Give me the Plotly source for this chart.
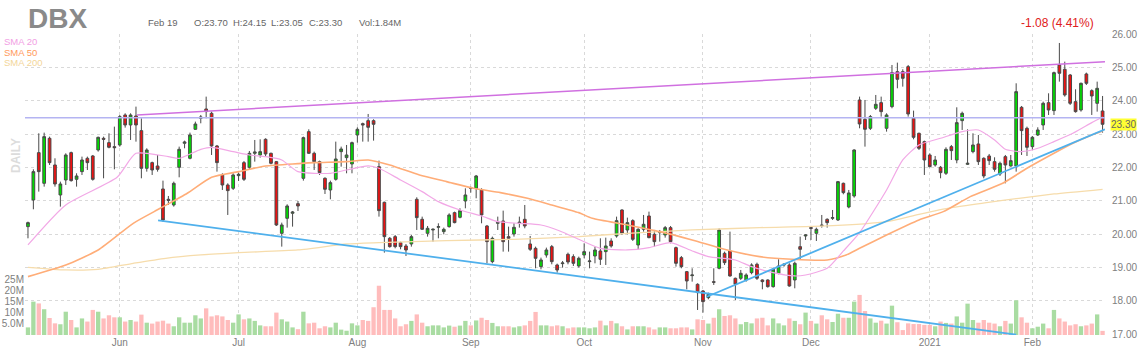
import plotly.graph_objects as go
import pandas as pd

# ---------------- data ----------------
holidays = ["2020-05-25", "2020-07-03", "2020-09-07", "2020-11-26",
            "2020-12-25", "2021-01-01", "2021-01-18", "2021-02-15"]
dates = [d for d in pd.bdate_range("2020-05-06", "2021-02-19")
         if d.strftime("%Y-%m-%d") not in holidays]

opens = [20.23, 21.03, 22.45, 21.53, 22.88, 22.08, 21.18, 21.63, 22.45, 21.65,
         21.88, 22.28, 22.35, 22.53, 22.88, 22.75, 22.63, 22.68, 23.58, 23.28,
         23.55, 23.11, 21.98, 22.15, 22.05, 21.36, 21.05, 20.88, 22.01, 22.73,
         22.28, 23.15, 23.48, 23.76, 23.63, 22.65, 21.78, 21.48, 21.38, 21.76,
         22.15, 22.01, 22.43, 22.38, 22.85, 22.43, 22.18, 20.03, 20.48, 20.63,
         20.92, 21.68, 23.08, 22.43, 22.18, 21.68, 21.33, 21.65, 22.48, 22.30,
         22.11, 22.98, 23.32, 23.41, 23.41, 22.03, 20.96, 19.88, 19.93, 19.75,
         19.65, 19.71, 21.05, 20.45, 20.03, 20.13, 20.21, 20.08, 20.23, 20.65,
         20.51, 21.00, 21.40, 21.38, 21.33, 20.25, 19.18, 20.33, 20.40, 19.93,
         20.01, 20.33, 20.45, 19.71, 19.58, 19.03, 19.38, 19.63, 19.08, 19.12,
         19.40, 19.33, 19.05, 19.38, 19.18, 19.35, 19.50, 19.48, 19.80, 19.95,
         20.73, 20.13, 20.41, 19.68, 20.15, 20.55, 20.00, 20.05, 19.98, 20.20,
         19.60, 19.30, 18.88, 18.76, 18.50, 18.30, 18.10, 18.58, 18.98, 19.43,
         19.50, 18.68, 18.68, 18.63, 18.85, 19.10, 18.63, 18.63, 18.43, 18.83,
         19.08, 19.08, 18.63, 19.63, 19.95, 20.20, 20.03, 20.28, 20.45, 20.48,
         20.43, 21.53, 20.82, 21.15, 24.03, 23.45, 23.18, 23.78, 23.95, 23.18,
         23.83, 24.88, 24.88, 25.03, 23.48, 23.03, 22.78, 22.38, 22.08, 22.01,
         21.83, 22.63, 22.23, 23.41, 22.10, 22.48, 22.71, 22.28, 22.35, 22.18,
         21.81, 22.33, 22.05, 22.05, 23.81, 23.18, 22.63, 22.98, 23.28, 23.95,
         23.71, 25.08, 24.95, 24.78, 23.98, 23.73, 24.81, 24.31, 23.93, 23.70]
highs = [20.38, 21.95, 23.03, 23.05, 22.93, 22.28, 21.58, 22.43, 22.48, 21.83,
         22.33, 22.33, 22.38, 22.93, 22.93, 23.03, 23.23, 23.58, 23.63, 23.63,
         23.83, 23.48, 22.58, 22.18, 22.38, 21.61, 21.15, 21.58, 22.63, 22.81,
         23.05, 23.38, 23.58, 24.13, 23.68, 22.68, 21.83, 21.53, 21.83, 21.85,
         22.20, 22.50, 22.83, 22.85, 22.88, 22.45, 22.20, 20.35, 20.90, 20.70,
         21.00, 22.93, 23.15, 22.48, 22.21, 21.71, 21.61, 22.78, 22.63, 22.68,
         22.78, 23.21, 23.35, 23.61, 23.45, 22.21, 20.98, 19.92, 19.98, 19.78,
         19.71, 19.98, 21.11, 20.53, 20.25, 20.18, 20.33, 20.20, 20.63, 20.68,
         20.78, 21.38, 21.43, 21.78, 21.38, 20.28, 19.93, 20.53, 20.71, 20.23,
         20.33, 20.53, 20.88, 19.95, 19.63, 19.30, 19.60, 19.68, 19.12, 19.20,
         19.45, 19.40, 19.33, 19.73, 19.48, 19.63, 19.88, 19.90, 19.88, 20.53,
         20.75, 20.50, 20.45, 20.18, 20.58, 20.68, 20.13, 20.13, 20.25, 20.25,
         19.63, 19.35, 18.90, 18.98, 18.53, 18.33, 18.25, 18.98, 20.18, 19.48,
         20.08, 18.70, 18.93, 18.83, 19.13, 19.15, 18.65, 18.65, 19.00, 19.25,
         19.13, 19.13, 19.18, 19.93, 20.00, 20.25, 20.20, 20.58, 20.48, 20.73,
         21.60, 21.55, 21.33, 22.55, 24.13, 24.03, 23.58, 24.18, 24.13, 23.63,
         25.08, 25.15, 24.95, 25.08, 23.71, 23.05, 22.81, 22.43, 22.35, 22.05,
         22.61, 22.68, 23.81, 23.68, 23.15, 23.03, 22.98, 22.31, 22.41, 22.31,
         22.18, 22.38, 22.38, 24.53, 23.85, 23.23, 22.95, 23.21, 23.98, 24.23,
         24.88, 25.74, 25.18, 24.81, 24.35, 24.55, 24.85, 24.35, 24.58, 24.15]
lows = [19.88, 20.75, 21.28, 21.43, 22.08, 21.43, 20.83, 21.48, 21.58, 21.43,
        21.78, 21.93, 21.61, 22.48, 21.68, 22.58, 21.95, 22.63, 23.20, 22.83,
        22.78, 21.68, 21.88, 21.78, 21.88, 20.38, 20.88, 20.83, 21.71, 22.58,
        22.25, 23.13, 23.33, 23.48, 22.38, 21.88, 21.33, 20.58, 21.33, 21.60,
        21.60, 21.95, 22.18, 22.30, 22.33, 22.10, 20.25, 19.63, 20.20, 20.23,
        20.70, 21.61, 22.41, 21.93, 21.78, 21.21, 21.05, 21.61, 22.03, 21.83,
        21.83, 22.75, 22.78, 22.78, 22.81, 20.53, 19.45, 19.60, 19.58, 19.55,
        19.35, 19.63, 20.13, 20.13, 19.93, 19.78, 19.88, 20.00, 20.20, 20.33,
        20.48, 20.78, 21.25, 21.08, 20.33, 19.13, 19.13, 20.13, 19.48, 19.48,
        19.93, 20.20, 20.18, 19.50, 18.98, 18.95, 19.30, 19.10, 18.85, 19.00,
        19.10, 19.05, 19.00, 19.28, 18.98, 19.13, 19.08, 19.08, 19.60, 19.90,
        19.98, 20.00, 19.80, 19.55, 20.08, 19.88, 19.63, 19.78, 19.90, 19.73,
        19.03, 18.98, 18.35, 18.58, 17.73, 17.65, 18.05, 18.48, 18.95, 19.08,
        18.73, 18.03, 18.63, 18.58, 18.80, 18.63, 18.35, 18.40, 18.40, 18.80,
        19.03, 18.43, 18.38, 19.23, 19.83, 19.83, 19.80, 20.20, 20.20, 20.43,
        20.40, 21.20, 20.78, 21.10, 23.18, 22.63, 23.13, 23.73, 23.53, 23.08,
        23.78, 24.38, 24.43, 23.53, 22.85, 22.53, 21.78, 22.01, 22.03, 21.68,
        21.78, 22.23, 22.13, 23.13, 22.08, 22.43, 22.08, 21.68, 22.08, 21.88,
        21.75, 21.53, 22.03, 21.88, 22.38, 22.35, 22.53, 22.95, 23.13, 23.58,
        23.58, 24.58, 24.13, 23.88, 23.65, 23.68, 24.48, 23.58, 23.68, 23.05]
closes = [20.35, 21.88, 21.88, 22.93, 22.15, 21.51, 21.51, 22.38, 21.61, 21.75,
          22.23, 22.15, 21.65, 22.91, 22.85, 22.61, 22.60, 23.53, 23.28, 23.58,
          23.28, 21.98, 22.53, 21.93, 21.95, 20.43, 21.02, 21.53, 22.55, 22.77,
          22.98, 23.31, 23.52, 23.68, 22.65, 22.15, 21.48, 21.31, 21.78, 21.80,
          21.65, 22.43, 22.47, 22.48, 22.41, 22.13, 20.28, 20.28, 20.85, 20.67,
          20.85, 22.90, 22.43, 22.18, 21.85, 21.35, 21.55, 22.26, 22.56, 22.38,
          22.75, 23.15, 23.28, 23.21, 23.30, 20.71, 19.93, 19.63, 19.63, 19.63,
          19.53, 19.93, 20.50, 20.15, 20.18, 20.15, 20.23, 20.15, 20.58, 20.35,
          20.71, 21.18, 21.38, 21.75, 20.58, 19.78, 19.88, 20.36, 19.78, 19.88,
          20.21, 20.36, 20.25, 19.55, 19.28, 19.23, 19.53, 19.18, 18.93, 19.14,
          19.17, 19.13, 19.28, 19.48, 19.20, 19.53, 19.25, 19.65, 19.65, 20.41,
          20.03, 20.35, 19.85, 20.15, 20.30, 19.90, 19.78, 20.08, 20.20, 19.78,
          19.13, 19.03, 18.60, 18.78, 18.25, 17.98, 18.20, 18.56, 20.13, 19.15,
          18.75, 18.50, 18.83, 18.78, 19.08, 18.68, 18.58, 18.43, 18.95, 19.05,
          19.10, 18.45, 19.13, 19.55, 19.98, 20.18, 20.15, 20.26, 20.35, 20.50,
          21.58, 21.25, 21.24, 22.53, 23.31, 23.15, 23.53, 23.90, 23.68, 23.58,
          24.85, 24.65, 24.68, 23.61, 22.91, 22.58, 22.23, 22.03, 22.23, 21.85,
          22.55, 22.51, 23.35, 23.63, 22.13, 22.68, 22.18, 21.75, 22.21, 21.95,
          22.13, 22.08, 22.21, 24.28, 23.11, 22.61, 22.91, 23.13, 23.93, 23.73,
          24.85, 24.83, 24.18, 23.93, 23.68, 24.53, 24.53, 24.15, 24.38, 23.30]
# volume in millions of shares
vol_m = [3.4, 14.9, 14.1, 11.5, 7.6, 5.2, 4.8, 10.4, 6.7, 3.4,
         7.4, 6.0, 11.2, 10.4, 7.4, 8.8, 7.9, 7.9, 6.0, 6.7,
         6.0, 9.1, 5.5, 5.1, 6.0, 6.4, 5.1, 3.9, 7.9, 5.5,
         5.5, 8.8, 7.4, 11.9, 8.3, 8.8, 8.3, 6.7, 5.5, 9.2,
         7.0, 7.4, 6.3, 4.3, 3.9, 3.9, 10.0, 7.0, 6.0, 3.4,
         2.6, 10.4, 5.2, 5.5, 3.0, 3.9, 3.4, 5.5, 2.4, 1.9,
         5.2, 4.3, 6.7, 6.3, 12.4, 22.0, 11.2, 11.2, 7.4, 3.9,
         4.8, 6.3, 9.2, 5.5, 3.9, 4.3, 4.3, 3.4, 4.2, 3.7,
         4.2, 6.3, 4.3, 6.5, 7.7, 6.7, 5.4, 3.9, 3.9, 3.9,
         3.4, 3.9, 4.3, 6.3, 10.3, 4.3, 4.3, 3.9, 4.3, 3.9,
         3.0, 3.4, 3.4, 3.4, 3.0, 3.4, 6.4, 4.3, 6.3, 5.2,
         3.9, 2.5, 3.9, 3.9, 3.9, 3.4, 2.5, 3.4, 3.4, 3.0,
         3.0, 3.4, 3.4, 2.5, 7.0, 6.7, 5.1, 7.7, 11.5, 8.5,
         8.8, 7.4, 4.8, 5.8, 5.2, 7.4, 7.7, 4.3, 7.4, 5.2,
         4.3, 7.4, 6.3, 4.8, 10.0, 6.3, 5.1, 8.8, 7.0, 5.8,
         9.5, 7.7, 7.7, 14.9, 17.9, 10.7, 7.4, 5.5, 6.4, 5.1,
         13.1, 5.7, 2.2, 5.2, 4.9, 4.9, 4.5, 4.5, 3.9, 6.0,
         5.4, 5.1, 8.3, 5.5, 14.0, 6.7, 5.5, 6.7, 5.5, 5.1,
         3.9, 6.3, 5.1, 15.5, 7.9, 5.5, 3.0, 3.7, 5.1, 3.0,
         11.2, 7.4, 6.0, 4.3, 4.8, 3.9, 4.3, 5.1, 9.2, 1.84]

sma20_idx = [0, 7, 16.5, 20, 26, 28, 32, 34, 38, 41, 44, 47, 50, 56, 59, 63, 65, 69,
             73, 76, 80, 84, 87, 91, 95, 98.5, 102, 106, 111, 115, 119, 123, 126,
             131, 134, 138, 142, 144, 148, 151, 154, 159, 162, 165, 169, 173, 176,
             179, 181, 184, 187, 190, 193.5, 197, 199]
sma20_val = [19.68, 20.88, 21.71, 22.43, 22.33, 22.28, 22.55, 22.61, 22.48, 22.38,
             22.33, 22.23, 21.88, 21.83, 21.93, 22.05, 21.98, 21.63, 21.28, 20.98,
             20.73, 20.55, 20.38, 20.33, 20.28, 20.10, 19.85, 19.58, 19.53, 19.60,
             19.75, 19.50, 19.33, 19.23, 19.03, 18.85, 18.75, 18.78, 18.98, 19.50,
             20.05, 21.33, 22.23, 22.68, 22.88, 23.08, 23.13, 22.83, 22.55, 22.48,
             22.58, 22.78, 23.03, 23.35, 23.52]
sma50_idx = [0, 7, 13, 19.5, 24.5, 29.5, 34, 39, 44, 50, 53, 59, 63, 67, 72.5, 77.5,
             82.5, 87.5, 92.5, 97, 102, 104.5, 111, 117, 123, 129.5, 135.5, 141.5,
             148, 151.5, 154, 159, 165, 169.5, 174.5, 180.5, 185, 190, 193.5, 197, 199]
sma50_val = [18.73, 19.08, 19.53, 20.33, 20.78, 21.23, 21.71, 21.88, 22.05, 22.12,
             22.15, 22.18, 22.23, 22.08, 21.78, 21.58, 21.38, 21.25, 21.08, 20.88,
             20.65, 20.48, 20.28, 20.08, 19.83, 19.53, 19.33, 19.25, 19.23, 19.38,
             19.58, 19.98, 20.43, 20.68, 21.13, 21.53, 21.98, 22.43, 22.73, 22.98, 23.10]
sma200_idx = [0, 7, 13, 19.5, 25.5, 32, 39, 50, 59, 65, 77.5, 90, 102, 111, 123,
              135.5, 148, 159, 165, 171, 177.5, 183.5, 190, 199]
sma200_val = [19.01, 18.93, 18.95, 19.13, 19.28, 19.38, 19.45, 19.53, 19.71, 19.75,
              19.81, 19.85, 19.93, 20.03, 20.13, 20.20, 20.25, 20.38, 20.60, 20.80,
              20.95, 21.08, 21.21, 21.35]

# drawn trend lines (session index, price)
resist_idx, resist_val = [20.2, 199.45], [23.58, 25.18]
hline_val = 23.50
down_idx, down_val = [24.1, 183.0], [20.42, 16.99]
up_idx, up_val = [125.6, 199.45], [18.12, 23.15]

title_ticker = "DBX"
last_quote = ["Feb 19", "O:23.70", "H:24.15", "L:23.05", "C:23.30", "Vol:1.84M"]
change_txt = "-1.08 (4.41%)"
price_ticks = list(range(17, 27))
vol_ticks = [5, 10, 15, 20, 25]
vol_tick_txt = ["5.0M", "10M", "15M", "20M", "25M"]

# ---------------- figure ----------------
n = len(dates)
xi = list(range(n))
month_idx, month_txt = [], []
for i, d in enumerate(dates):
    if i > 0 and d.month != dates[i - 1].month:
        month_idx.append(i)
        month_txt.append("2021" if (d.month == 1) else d.strftime("%b"))

FONT = "Liberation Sans, Arial, sans-serif"
GREEN, RED = "#00dd00", "#ee1111"
VGREEN, VRED = "#a9dca2", "#ffbcbc"

vcol = [VGREEN if c >= o else VRED for o, c in zip(opens, closes)]

fig = go.Figure()
fig.add_trace(go.Bar(x=xi, y=vol_m, marker=dict(color=vcol, line=dict(width=0)),
                     yaxis="y", showlegend=False, hoverinfo="skip"))

line_specs = [
    (sma200_idx, sma200_val, "#f6dcab", 1.3),
    (sma50_idx, sma50_val, "#ffad78", 1.6),
    (sma20_idx, sma20_val, "#f2a8e6", 1.2),
]
for xs, ys, col, w in line_specs:
    fig.add_trace(go.Scatter(x=xs, y=ys, mode="lines",
                             line=dict(color=col, width=w, shape="spline", smoothing=0.6),
                             yaxis="y2", showlegend=False, hoverinfo="skip"))

fig.add_trace(go.Scatter(x=[-0.55, 199.45], y=[hline_val, hline_val], mode="lines",
                         line=dict(color="#b4b4f2", width=1.5), yaxis="y2", showlegend=False))
fig.add_trace(go.Scatter(x=resist_idx, y=resist_val, mode="lines",
                         line=dict(color="#d070e0", width=1.5), yaxis="y2", showlegend=False))

fig.add_trace(go.Candlestick(
    x=xi, open=opens, high=highs, low=lows, close=closes, yaxis="y2",
    increasing=dict(fillcolor=GREEN, line=dict(color="#4a4a4a", width=1)),
    decreasing=dict(fillcolor=RED, line=dict(color="#4a4a4a", width=1)),
    whiskerwidth=0, showlegend=False))

for xs, ys in [(down_idx, down_val), (up_idx, up_val)]:
    fig.add_trace(go.Scatter(x=xs, y=ys, mode="lines", line=dict(color="#4fb0ec", width=1.8),
                             yaxis="y2", showlegend=False, hoverinfo="skip"))

L, R, T, B = 25, 37, 34, 18
W, H = 1142, 353
PW, PH = W - L - R, H - T - B


def px(xp):
    return (xp - L) / PW


def py(yp):
    return (H - B - yp) / PH


ann = []
ann.append(dict(text=title_ticker, x=px(26), y=py(18), xanchor="left", yanchor="middle",
                font=dict(size=28, color="#8a8a8a", family=FONT, weight="bold")))
qx = [146, 192, 231, 269, 307, 357]
for t, xx in zip(last_quote, qx):
    ann.append(dict(text=t, x=px(xx), y=py(22.5), xanchor="left", yanchor="middle",
                    font=dict(size=9.5, color="#666666", family=FONT)))
ann.append(dict(text=change_txt, x=px(1096), y=py(23), xanchor="right", yanchor="middle",
                font=dict(size=12, color="#e02020", family=FONT)))
for t, yy, col in [("SMA 20", 42, "#f2a0e4"), ("SMA 50", 52.5, "#ff9a5c"), ("SMA 200", 63, "#f3d69a")]:
    ann.append(dict(text=t, x=px(2), y=py(yy), xanchor="left", yanchor="middle",
                    font=dict(size=9.5, color=col, family=FONT)))
ann.append(dict(text="DAILY", x=px(16), y=py(156), textangle=-90, xanchor="center", yanchor="middle",
                font=dict(size=12, color="#dcdcdc", family=FONT, weight="bold")))
ann.append(dict(text=f"{closes[-1]:.2f}", x=px(1110), y=closes[-1], xref="paper", yref="y2",
                xanchor="left", yanchor="middle", bgcolor="#ffff33", borderpad=0,
                font=dict(size=10, color="#666666", family=FONT)))
for a in ann:
    a.setdefault("xref", "paper")
    a.setdefault("yref", "paper")
    a["showarrow"] = False

fig.update_layout(
    width=W, height=H, margin=dict(l=L, r=R, t=T, b=B, autoexpand=False),
    paper_bgcolor="white", plot_bgcolor="white",
    font=dict(family=FONT, size=10, color="#808080"),
    bargap=0.2, boxgap=0.28,
    annotations=ann,
    xaxis=dict(range=[-0.55, 199.45], tickvals=month_idx, ticktext=month_txt,
               showgrid=True, gridcolor="#d9d9d9", griddash="3px,3px", gridwidth=1,
               zeroline=False, showline=False, ticks="", rangeslider=dict(visible=False),
               automargin=False, tickfont=dict(size=10, color="#808080")),
    yaxis=dict(range=[0, 134.4], tickvals=vol_ticks, ticktext=vol_tick_txt, side="left",
               showgrid=False, zeroline=False, showline=False, ticks="", automargin=False,
               tickfont=dict(size=10, color="#808080")),
    yaxis2=dict(range=[16.979, 26.009], overlaying="y", side="right",
                tickvals=price_ticks, ticktext=[f"{v:.2f}" for v in price_ticks],
                showgrid=True, gridcolor="#d9d9d9", griddash="3px,3px", gridwidth=1,
                zeroline=False, showline=False, ticks="", ticklabelstandoff=6, automargin=False,
                tickfont=dict(size=10, color="#808080")),
    hovermode=False,
)

fig.write_html("out.html")
